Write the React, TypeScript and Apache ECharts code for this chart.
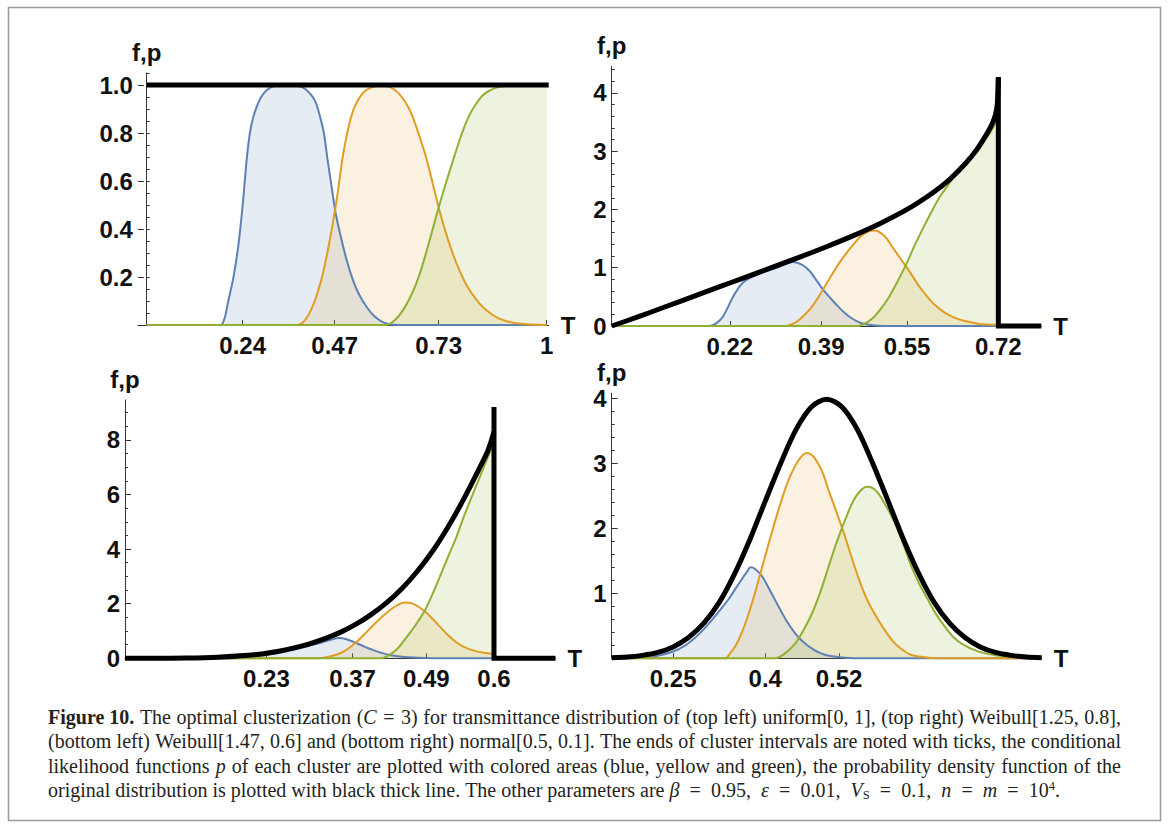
import React, { useEffect, useRef } from "react";
import * as echarts from "echarts";

// ---------------- Top left: uniform[0, 1] ----------------
const tlTicksX = [0.24, 0.47, 0.73, 1];
const tlTickLabelsX = ["0.24", "0.47", "0.73", "1"];
const tlTicksY = [0.2, 0.4, 0.6, 0.8, 1.0];
const tlTickLabelsY = ["0.2", "0.4", "0.6", "0.8", "1.0"];
const tlPdf = [[0, 1], [1.005, 1]];
const tlBlue = [[0, 0], [0.185, 0], [0.195, 0.03], [0.204, 0.1], [0.217, 0.2], [0.229, 0.33], [0.24, 0.5], [0.25, 0.69], [0.258, 0.8], [0.267, 0.87], [0.28, 0.93], [0.2925, 0.965], [0.31, 0.99], [0.33, 1.0], [0.37, 1.0], [0.39, 0.99], [0.408, 0.965], [0.422, 0.93], [0.433, 0.87], [0.443, 0.8], [0.452, 0.69], [0.462, 0.58], [0.472, 0.47], [0.485, 0.37], [0.5, 0.27], [0.515, 0.19], [0.53, 0.13], [0.55, 0.075], [0.57, 0.035], [0.59, 0.012], [0.61, 0.002], [0.63, 0], [1.0, 0]];
const tlOrange = [[0, 0], [0.375, 0], [0.39, 0.01], [0.4, 0.03], [0.41, 0.06], [0.42, 0.1], [0.43, 0.15], [0.44, 0.21], [0.455, 0.33], [0.47, 0.47], [0.48, 0.58], [0.489, 0.69], [0.5, 0.79], [0.51, 0.86], [0.52, 0.91], [0.535, 0.955], [0.55, 0.98], [0.57, 0.995], [0.59, 1.0], [0.61, 0.99], [0.63, 0.965], [0.648, 0.925], [0.662, 0.88], [0.675, 0.82], [0.688, 0.755], [0.7, 0.69], [0.715, 0.59], [0.73, 0.49], [0.745, 0.4], [0.7625, 0.31], [0.78, 0.235], [0.8, 0.165], [0.82, 0.115], [0.84, 0.075], [0.86, 0.048], [0.88, 0.028], [0.9, 0.016], [0.93, 0.006], [0.96, 0.002], [1.0, 0]];
const tlGreen = [[0, 0], [0.598, 0], [0.62, 0.02], [0.64, 0.06], [0.66, 0.12], [0.68, 0.2], [0.7, 0.31], [0.715, 0.4], [0.73, 0.49], [0.745, 0.575], [0.76, 0.655], [0.782, 0.77], [0.795, 0.83], [0.81, 0.885], [0.825, 0.925], [0.839, 0.955], [0.855, 0.975], [0.877, 0.99], [0.9, 0.997], [0.93, 1.0], [1.0, 1.0]];

// ---------------- Top right: Weibull[1.25, 0.8] ----------------
const trTicksX = [0.22, 0.39, 0.55, 0.72];
const trTickLabelsX = ["0.22", "0.39", "0.55", "0.72"];
const trTicksY = [0, 1, 2, 3, 4];
const trTickLabelsY = ["0", "1", "2", "3", "4"];
const trPdf = [[0, 0], [0.05, 0.16], [0.1, 0.33], [0.15, 0.5], [0.2, 0.67], [0.25, 0.84], [0.3, 1.01], [0.35, 1.18], [0.4, 1.36], [0.45, 1.55], [0.5, 1.76], [0.55, 2.0], [0.6, 2.3], [0.63, 2.52], [0.66, 2.8], [0.68, 3.03], [0.7, 3.32], [0.71, 3.5], [0.715, 3.64], [0.718, 3.8], [0.72, 4.27]];
const trPdfEdge = [[0.72, 4.27], [0.72, 0], [0.8, 0]];
const trBlue = [[0, 0], [0.183, 0], [0.195, 0.05], [0.207, 0.16], [0.226, 0.5], [0.24, 0.7], [0.251, 0.79], [0.276, 0.9], [0.307, 1.0], [0.338, 1.1], [0.355, 1.05], [0.369, 0.94], [0.38, 0.8], [0.394, 0.62], [0.407, 0.48], [0.419, 0.36], [0.432, 0.24], [0.444, 0.15], [0.457, 0.08], [0.469, 0.04], [0.49, 0.01], [0.52, 0], [0.72, 0]];
const trOrange = [[0, 0], [0.322, 0], [0.34, 0.05], [0.351, 0.12], [0.372, 0.32], [0.392, 0.6], [0.408, 0.85], [0.423, 1.07], [0.437, 1.25], [0.451, 1.41], [0.465, 1.55], [0.48, 1.63], [0.492, 1.64], [0.502, 1.59], [0.513, 1.49], [0.523, 1.35], [0.536, 1.18], [0.549, 1.01], [0.562, 0.83], [0.574, 0.66], [0.588, 0.5], [0.603, 0.35], [0.62, 0.23], [0.639, 0.14], [0.66, 0.08], [0.682, 0.04], [0.7, 0.025], [0.72, 0.02]];
const trGreen = [[0, 0], [0.459, 0], [0.473, 0.05], [0.487, 0.14], [0.5, 0.28], [0.516, 0.49], [0.532, 0.76], [0.549, 1.07], [0.565, 1.4], [0.581, 1.7], [0.596, 1.97], [0.61, 2.2], [0.625, 2.4], [0.639, 2.57], [0.653, 2.71], [0.667, 2.85], [0.682, 3.0], [0.696, 3.2], [0.705, 3.32], [0.711, 3.42], [0.72, 3.55]];

// ---------------- Bottom left: Weibull[1.47, 0.6] ----------------
const blTicksX = [0.23, 0.37, 0.49, 0.6];
const blTickLabelsX = ["0.23", "0.37", "0.49", "0.6"];
const blTicksY = [0, 2, 4, 6, 8];
const blTickLabelsY = ["0", "2", "4", "6", "8"];
const blPdf = [[0, 0], [0.05, 0], [0.1, 0.01], [0.15, 0.04], [0.2, 0.11], [0.225, 0.17], [0.25, 0.26], [0.275, 0.38], [0.3, 0.53], [0.325, 0.72], [0.35, 0.95], [0.375, 1.24], [0.4, 1.6], [0.425, 2.03], [0.45, 2.55], [0.475, 3.18], [0.5, 3.92], [0.525, 4.8], [0.55, 5.8], [0.575, 6.9], [0.59, 7.6], [0.6, 8.3]];
const blPdfEdge = [[0.6, 9.2], [0.6, 0], [0.7, 0]];
const blBlue = [[0, 0], [0.17, 0], [0.2, 0.04], [0.23, 0.12], [0.26, 0.24], [0.29, 0.4], [0.315, 0.55], [0.335, 0.68], [0.348, 0.74], [0.36, 0.7], [0.377, 0.55], [0.39, 0.42], [0.404, 0.3], [0.42, 0.18], [0.431, 0.12], [0.45, 0.06], [0.47, 0.025], [0.5, 0.005], [0.53, 0], [0.6, 0]];
const blOrange = [[0, 0], [0.31, 0], [0.33, 0.05], [0.355, 0.24], [0.377, 0.61], [0.39, 0.9], [0.404, 1.22], [0.418, 1.52], [0.431, 1.77], [0.443, 1.95], [0.455, 2.04], [0.468, 2.0], [0.485, 1.77], [0.5, 1.45], [0.512, 1.16], [0.525, 0.85], [0.539, 0.58], [0.552, 0.41], [0.566, 0.29], [0.583, 0.2], [0.598, 0.16]];
const blGreen = [[0, 0], [0.415, 0], [0.428, 0.1], [0.442, 0.33], [0.452, 0.6], [0.463, 0.92], [0.475, 1.3], [0.488, 1.77], [0.5, 2.35], [0.512, 2.99], [0.525, 3.7], [0.539, 4.45], [0.552, 5.25], [0.566, 6.04], [0.578, 6.7], [0.588, 7.26], [0.6, 7.87]];

// ---------------- Bottom right: normal[0.5, 0.1] ----------------
const brTicksX = [0.25, 0.4, 0.52];
const brTickLabelsX = ["0.25", "0.4", "0.52"];
const brTicksY = [1, 2, 3, 4];
const brTickLabelsY = ["1", "2", "3", "4"];
const brPdf = [[0.15, 0.01], [0.175, 0.02], [0.2, 0.045], [0.225, 0.09], [0.25, 0.175], [0.275, 0.32], [0.3, 0.54], [0.325, 0.86], [0.35, 1.3], [0.375, 1.83], [0.4, 2.42], [0.425, 3.0], [0.45, 3.52], [0.475, 3.87], [0.5, 3.99], [0.525, 3.87], [0.55, 3.52], [0.575, 3.0], [0.6, 2.42], [0.625, 1.83], [0.65, 1.3], [0.675, 0.86], [0.7, 0.54], [0.725, 0.32], [0.75, 0.175], [0.775, 0.09], [0.8, 0.045], [0.825, 0.02], [0.85, 0.01]];
const brBlue = [[0.15, 0], [0.2, 0.01], [0.225, 0.04], [0.249, 0.1], [0.27, 0.2], [0.286, 0.32], [0.3, 0.45], [0.314, 0.6], [0.328, 0.76], [0.341, 0.92], [0.352, 1.08], [0.362, 1.22], [0.37, 1.33], [0.376, 1.4], [0.383, 1.38], [0.395, 1.26], [0.408, 1.04], [0.422, 0.79], [0.435, 0.57], [0.449, 0.38], [0.462, 0.25], [0.476, 0.15], [0.49, 0.08], [0.503, 0.04], [0.53, 0.01], [0.56, 0], [0.85, 0]];
const brOrange = [[0.15, 0], [0.335, 0], [0.343, 0.08], [0.351, 0.18], [0.362, 0.4], [0.373, 0.69], [0.384, 1.03], [0.395, 1.41], [0.408, 1.85], [0.422, 2.3], [0.436, 2.7], [0.449, 2.97], [0.46, 3.12], [0.468, 3.16], [0.477, 3.12], [0.486, 3.0], [0.495, 2.82], [0.503, 2.59], [0.516, 2.25], [0.53, 1.87], [0.543, 1.48], [0.557, 1.1], [0.57, 0.82], [0.584, 0.59], [0.597, 0.4], [0.611, 0.23], [0.625, 0.12], [0.638, 0.05], [0.665, 0.01], [0.7, 0], [0.85, 0]];
const brGreen = [[0.15, 0], [0.416, 0], [0.43, 0.06], [0.449, 0.23], [0.462, 0.43], [0.476, 0.69], [0.49, 1.03], [0.503, 1.41], [0.516, 1.78], [0.53, 2.13], [0.542, 2.4], [0.553, 2.56], [0.565, 2.64], [0.575, 2.62], [0.584, 2.54], [0.597, 2.34], [0.611, 2.08], [0.625, 1.75], [0.638, 1.41], [0.651, 1.14], [0.665, 0.9], [0.678, 0.68], [0.692, 0.49], [0.705, 0.34], [0.719, 0.23], [0.745, 0.11], [0.773, 0.05], [0.81, 0.015], [0.85, 0]];

// ---------------- Caption ----------------
// "\u2002" marks the wider spaces of the typeset math.
const captionLines = [
  "{b|Figure 10.} The optimal clusterization ({i|C}\u2002=\u20023) for transmittance distribution of (top left) uniform[0, 1], (top right) Weibull[1.25, 0.8],",
  "(bottom left) Weibull[1.47, 0.6] and (bottom right) normal[0.5, 0.1]. The ends of cluster intervals are noted with ticks, the conditional",
  "likelihood functions {i|p} of each cluster are plotted with colored areas (blue, yellow and green), the probability density function of the",
  "original distribution is plotted with black thick line. The other parameters are {i|β}\u2002=\u20020.95,\u2002{i|ε}\u2002=\u20020.01,\u2002{i|V}{sub|S}\u2002=\u20020.1,\u2002{i|n}\u2002=\u2002{i|m}\u2002=\u200210{sup|4}.",
];
const captionJustify = ["words", "words", "words", "math"];
const captionRight = [1121, 1121, 1121, 1060];

const BLUE = "#5E81B5";
const ORANGE = "#E19C24";
const GREEN = "#8FB032";
const BLUE_FILL = "rgba(94,129,181,0.22)";
const ORANGE_FILL = "rgba(225,156,36,0.2)";
const GREEN_FILL = "rgba(143,176,50,0.22)";
const AXIS = "#333";
const FONT = "Liberation Sans";
const CAP_FONT = "Liberation Serif";
const CAP_SIZE = 20;
const CAP_X = 48;
const CAP_Y = [717, 741, 766, 790];

function steps(step: number, max: number): number[] {
  const out: number[] = [];
  for (let k = 1; k * step <= max + 1e-9; k++) out.push(Math.round(k * step * 1000) / 1000);
  return out;
}

function labelOf(ticks: number[], labels: string[]) {
  return (v: number) => {
    const i = ticks.findIndex((t) => Math.abs(t - v) < 1e-6);
    return i >= 0 ? labels[i] : "";
  };
}

const textStyle = { fontFamily: FONT, fontWeight: "bold" as const, fontSize: 24, color: "#111" };

interface Panel {
  grid: { left: number; top: number; width: number; height: number };
  xMin: number; xMax: number; yMax: number; yOnZero: boolean;
  ticksX: number[]; labelsX: string[];
  ticksY: number[]; labelsY: string[];
  minorStep: number;
}

const panels: Panel[] = [
  { grid: { left: 137.9, top: 73, width: 410.8, height: 252 }, xMin: -0.022, xMax: 1.005, yMax: 1.05, yOnZero: true,
    ticksX: tlTicksX, labelsX: tlTickLabelsX, ticksY: tlTicksY, labelsY: tlTickLabelsY, minorStep: 0.05 },
  { grid: { left: 611.7, top: 66.6, width: 429.6, height: 259.4 }, xMin: 0, xMax: 0.8, yMax: 4.45, yOnZero: false,
    ticksX: trTicksX, labelsX: trTickLabelsX, ticksY: trTicksY, labelsY: trTickLabelsY, minorStep: 0.2 },
  { grid: { left: 125, top: 400, width: 430.5, height: 258.3 }, xMin: 0, xMax: 0.7, yMax: 9.46, yOnZero: false,
    ticksX: blTicksX, labelsX: blTickLabelsX, ticksY: blTicksY, labelsY: blTickLabelsY, minorStep: 0.5 },
  { grid: { left: 611.7, top: 393.3, width: 430, height: 265 }, xMin: 0.15, xMax: 0.85, yMax: 4.08, yOnZero: false,
    ticksX: brTicksX, labelsX: brTickLabelsX, ticksY: brTicksY, labelsY: brTickLabelsY, minorStep: 0.2 },
];

function pSeries(data: number[][], color: string, fill: string, gi: number) {
  return {
    type: "line", xAxisIndex: gi, yAxisIndex: gi * 2, data, showSymbol: false, symbol: "none",
    smooth: 0.3, clip: false, silent: true, z: 2,
    lineStyle: { color, width: 2 }, areaStyle: { color: fill },
  };
}
function blackSeries(data: number[][], gi: number, smooth: number) {
  return {
    type: "line", xAxisIndex: gi, yAxisIndex: gi * 2, data, showSymbol: false, symbol: "none",
    smooth, clip: false, silent: true, z: 5,
    lineStyle: { color: "#000", width: 5, join: "miter" },
  };
}

const capRich: Record<string, any> = {
  b: { fontWeight: "bold", fontFamily: CAP_FONT, fontSize: CAP_SIZE, fill: "#231f20" },
  i: { fontStyle: "italic", fontFamily: CAP_FONT, fontSize: CAP_SIZE, fill: "#231f20" },
  sub: { fontStyle: "normal", fontFamily: CAP_FONT, fontSize: 12.5, fill: "#231f20", verticalAlign: "bottom", padding: [9, 0, 0, 0] },
  sup: { fontFamily: CAP_FONT, fontSize: 12.5, fill: "#231f20", verticalAlign: "top", padding: [0, 0, 9, 0] },
};

function buildCaptionLine(line: string, mode: string, right: number, idx: number) {
  const canvas = document.createElement("canvas");
  const ctx = canvas.getContext("2d")!;
  const measure = (t: string, st: any) => {
    ctx.font = `${st.fontStyle || "normal"} ${st.fontWeight || "normal"} ${st.fontSize || CAP_SIZE}px "${CAP_FONT}"`;
    return ctx.measureText(t).width;
  };
  const re = /\{(\w+)\|([^}]*)\}/g;
  const segs: { style: string | null; text: string }[] = [];
  let last = 0;
  let m: RegExpExecArray | null;
  while ((m = re.exec(line))) {
    if (m.index > last) segs.push({ style: null, text: line.slice(last, m.index) });
    segs.push({ style: m[1], text: m[2] });
    last = m.index + m[0].length;
  }
  if (last < line.length) segs.push({ style: null, text: line.slice(last) });
  const plain = { fontSize: CAP_SIZE };
  const spaceW = measure(" ", plain);
  let total = 0;
  let spaces = 0;
  let mathSpaces = 0;
  segs.forEach((s) => {
    if (s.style) total += measure(s.text, capRich[s.style]);
    else {
      const parts = s.text.split("\u2002");
      mathSpaces += parts.length - 1;
      parts.forEach((p) => {
        const words = p.split(" ");
        words.forEach((w) => (total += measure(w, plain)));
        spaces += words.length - 1;
      });
    }
  });
  const target = right - CAP_X;
  let sw = spaceW;
  let mw = spaceW * 1.3;
  if (mode === "words" && spaces > 0) sw = (target - total - mathSpaces * mw) / spaces;
  if (mode === "math" && mathSpaces > 0) mw = (target - total - spaces * sw) / mathSpaces;
  const key = "s" + idx;
  const mkey = "m" + idx;
  const text = segs
    .map((s) =>
      s.style
        ? `{${s.style}|${s.text}}`
        : s.text
            .split("\u2002")
            .map((p) => p.split(" ").join(`{${key}| }`))
            .join(`{${mkey}| }`)
    )
    .join("");
  const rich = {
    ...capRich,
    [key]: { width: sw, fontFamily: CAP_FONT, fontSize: CAP_SIZE },
    [mkey]: { width: mw, fontFamily: CAP_FONT, fontSize: CAP_SIZE },
  };
  return { text, rich };
}

export default function App() {
  const ref = useRef<HTMLDivElement>(null);
  useEffect(() => {
    if (!ref.current) return;
    const chart = echarts.init(ref.current, null, { renderer: "svg" });

    const grid = panels.map((p) => ({ ...p.grid, containLabel: false }));
    const xAxis = panels.map((p, i) => ({
      type: "value", gridIndex: i, min: p.xMin, max: p.xMax, position: "bottom",
      name: "T", nameLocation: "end", nameGap: 12,
      nameTextStyle: { ...textStyle, verticalAlign: "middle" },
      axisLine: { show: true, onZero: false, lineStyle: { color: AXIS, width: 1 } },
      axisTick: { show: true, inside: true, length: 5, customValues: p.ticksX, lineStyle: { color: AXIS } },
      axisLabel: { show: true, customValues: p.ticksX, formatter: labelOf(p.ticksX, p.labelsX), margin: 8, ...textStyle },
      splitLine: { show: false },
    }));
    const yAxis: any[] = [];
    panels.forEach((p, i) => {
      const allY = steps(p.minorStep, p.yMax);
      yAxis.push({
        type: "value", gridIndex: i, min: 0, max: p.yMax, position: "left", offset: 0,
        name: "f,p", nameLocation: "end", nameGap: 9,
        nameTextStyle: { ...textStyle, align: "center" },
        axisLine: { show: true, onZero: p.yOnZero, lineStyle: { color: AXIS, width: 1 } },
        axisTick: { show: true, inside: true, length: 3, customValues: allY, lineStyle: { color: AXIS } },
        axisLabel: { show: true, customValues: p.ticksY, formatter: labelOf(p.ticksY, p.labelsY), margin: 5, ...textStyle },
        splitLine: { show: false },
      });
      yAxis.push({
        type: "value", gridIndex: i, min: 0, max: p.yMax, position: "left", offset: 0,
        axisLine: { show: false, onZero: p.yOnZero },
        axisTick: { show: true, inside: true, length: 6, customValues: p.ticksY.filter((v) => v > 0), lineStyle: { color: AXIS } },
        axisLabel: { show: false },
        splitLine: { show: false },
      });
    });

    const series = [
      pSeries(tlBlue, BLUE, BLUE_FILL, 0), pSeries(tlOrange, ORANGE, ORANGE_FILL, 0), pSeries(tlGreen, GREEN, GREEN_FILL, 0),
      blackSeries(tlPdf, 0, 0),
      pSeries(trBlue, BLUE, BLUE_FILL, 1), pSeries(trOrange, ORANGE, ORANGE_FILL, 1), pSeries(trGreen, GREEN, GREEN_FILL, 1),
      blackSeries(trPdf, 1, 0.3), blackSeries(trPdfEdge, 1, 0),
      pSeries(blBlue, BLUE, BLUE_FILL, 2), pSeries(blOrange, ORANGE, ORANGE_FILL, 2), pSeries(blGreen, GREEN, GREEN_FILL, 2),
      blackSeries(blPdf, 2, 0.3), blackSeries(blPdfEdge, 2, 0),
      pSeries(brBlue, BLUE, BLUE_FILL, 3), pSeries(brOrange, ORANGE, ORANGE_FILL, 3), pSeries(brGreen, GREEN, GREEN_FILL, 3),
      blackSeries(brPdf, 3, 0.3),
    ];

    const graphic: any[] = [
      { type: "rect", shape: { x: 8.5, y: 7.5, width: 1152, height: 813 }, style: { fill: "none", stroke: "#9a9a9a", lineWidth: 1.5 }, silent: true },
      ...captionLines.map((t, k) => {
        const { text, rich } = buildCaptionLine(t, captionJustify[k], captionRight[k], k);
        return {
          type: "text", x: CAP_X, y: CAP_Y[k], silent: true,
          style: { text, fontFamily: CAP_FONT, fontSize: CAP_SIZE, fill: "#231f20", verticalAlign: "middle", rich },
        };
      }),
    ];

    chart.setOption({
      animation: false,
      backgroundColor: "#fff",
      grid, xAxis, yAxis, series, graphic,
    });
    return () => chart.dispose();
  }, []);
  return <div ref={ref} style={{ position: "fixed", left: 0, top: 0, width: 1168, height: 829, background: "#fff" }} />;
}
